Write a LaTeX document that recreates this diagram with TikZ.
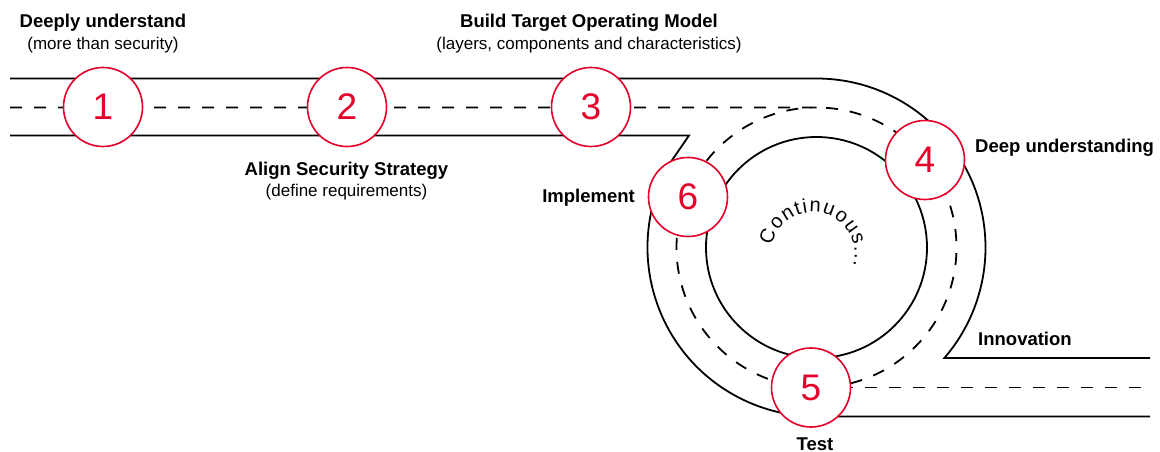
\documentclass[tikz,border=0pt]{standalone}
\usepackage{fontspec}
\setmainfont{Liberation Sans}
\usetikzlibrary{decorations.text,calc}
\definecolor{brandred}{HTML}{E4002B}
\begin{document}
\begin{tikzpicture}[x=1pt,y=1pt,
  road/.style={line width=1.8pt, draw=black},
  lane/.style={line width=1.8pt, draw=black, dash pattern=on 12pt off 12pt},
  stepcircle/.style={circle, draw=brandred, line width=1.6pt, fill=white,
     minimum size=79pt, inner sep=0pt, text=brandred,
     font=\fontsize{37}{37}\selectfont},
  title/.style={inner sep=0pt, font=\fontsize{18.5}{20}\selectfont\bfseries},
  sub/.style={inner sep=0pt, font=\fontsize{17}{19}\selectfont},
]
\useasboundingbox (0,0) rectangle (1160,-452);
\fill[white] (0,0) rectangle (1160,-452);

% geometry
\coordinate (C) at (816.5,-247.5);
\coordinate (topL) at (10,-78.5);
\coordinate (topR) at (816.5,-78.5);
\coordinate (innovE) at (1150,-358);
\coordinate (botL) at (10,-135.5);
\coordinate (botR) at (689,-135.5);
\coordinate (botJ) at ($(C)+(150:169pt)$);
\coordinate (botE) at (1150,-416.5);
\coordinate (midL) at (10,-107.5);
\coordinate (midTop) at (816.5,-107.5);
\coordinate (midBot) at (816.5,-387.5);
\coordinate (midE) at (1150,-387.5);
\coordinate (T) at (812.7,-254.2);

% road edges
\draw[road] (topL) -- (topR) arc[start angle=90, end angle=-40.8, radius=169pt] -- (innovE);
\draw[road] (botL) -- (botR) -- (botJ) arc[start angle=150, end angle=270, radius=169pt] -- (botE);
\draw[road] (C) circle[radius=110.5pt];

% lane markings
\draw[lane] (midL) -- (midTop) arc[start angle=90, end angle=-270, radius=140pt];
\draw[lane] (midBot) -- (midE);

% curved text
{\fontsize{20}{20}\selectfont
\path[decorate, decoration={text along path,
   text={|\fontsize{20}{20}\selectfont|Continuous...},
   text align={fit to path}}]
   ($(T)+(168:42pt)$) arc[start angle=168, end angle=-16, radius=42pt];
}

% step circles
\node[stepcircle] (s1) at (103,-107) {1};
\node[stepcircle] (s2) at (347,-107) {2};
\node[stepcircle] (s3) at (591,-107) {3};
\node[stepcircle] (s4) at (925,-160) {4};
\node[stepcircle] (s5) at (811,-387.5) {5};
\node[stepcircle] (s6) at (688,-197) {6};

% labels
\node[title, anchor=base] (t1) at (103,-28) {Deeply understand};
\node[sub, anchor=base] (u1) at (103,-49.5) {(more than security)};
\node[title, anchor=base] (t3) at (589,-28) {Build Target Operating Model};
\node[sub, anchor=base] (u3) at (589,-49.5) {(layers, components and characteristics)};
\node[title, anchor=base] (t2) at (346.5,-175) {Align Security Strategy};
\node[sub, anchor=base] (u2) at (346.5,-196.5) {(define requirements)};
\node[title, anchor=base east] (t6) at (635,-202) {Implement};
\node[title, anchor=base west] (t4) at (975,-152) {Deep understanding};
\node[title, anchor=base west] (t7) at (978,-345) {Innovation};
\node[title, anchor=base] (t5) at (815,-450) {Test};
\end{tikzpicture}
\end{document}
